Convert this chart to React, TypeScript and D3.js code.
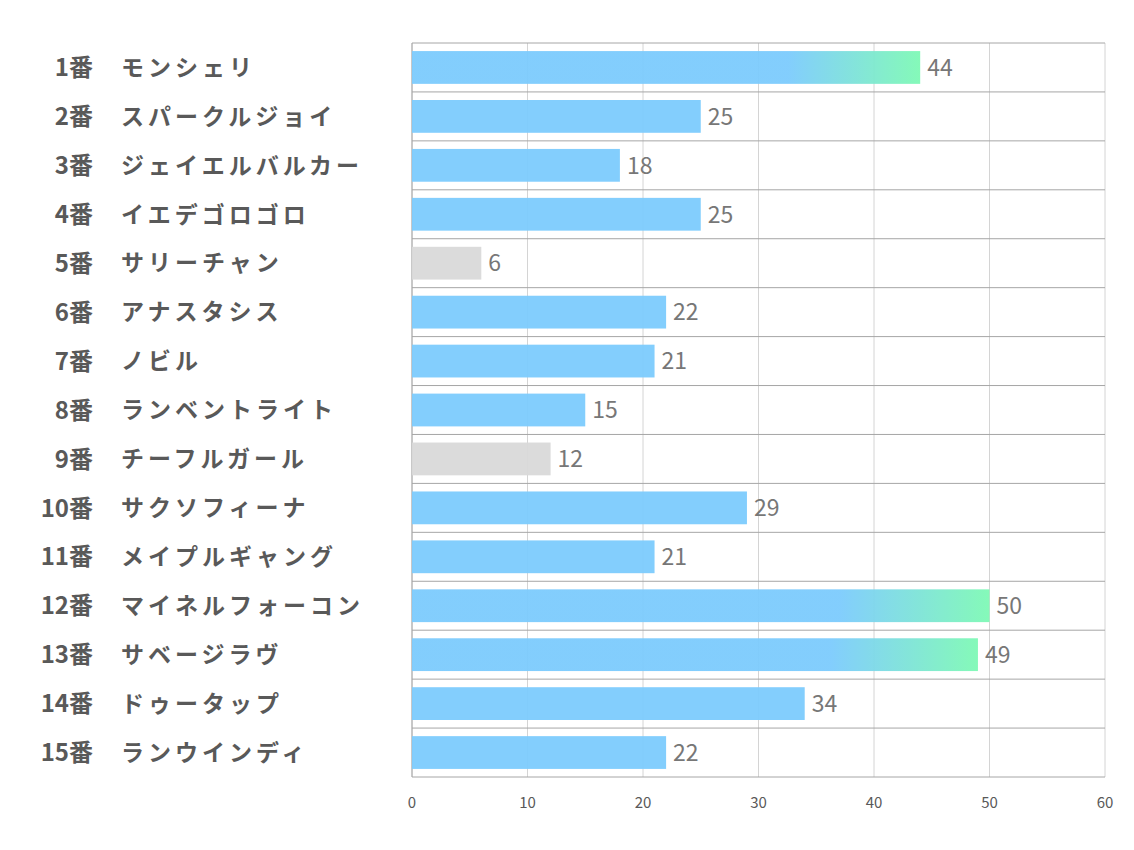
import React from "react";
import * as d3 from "d3";

const numbers = ["1番","2番","3番","4番","5番","6番","7番","8番","9番","10番","11番","12番","13番","14番","15番"];
const names = ["モンシェリ","スパークルジョイ","ジェイエルバルカー","イエデゴロゴロ","サリーチャン","アナスタシス","ノビル","ランベントライト","チーフルガール","サクソフィーナ","メイプルギャング","マイネルフォーコン","サベージラヴ","ドゥータップ","ランウインディ"];
const values = [44,25,18,25,6,22,21,15,12,29,21,50,49,34,22];
const kinds = ["top","normal","normal","normal","gray","normal","normal","normal","gray","normal","normal","top","top","normal","normal"];
const xTicks = [0,10,20,30,40,50,60];

const W = 1134, H = 850;
const left = 412, right = 1105, top = 43, bottom = 777;
const FONT = "'Noto Sans CJK JP', 'Noto Sans', sans-serif";

export default function App() {
  const x = d3.scaleLinear().domain([0, 60]).range([left, right]);
  const y = d3.scaleBand<string>().domain(numbers).range([top, bottom]).paddingInner(0.33).paddingOuter(0.165);
  const rows = d3.scaleBand<string>().domain(numbers).range([top, bottom]);
  const blue = "#7ccbfd";
  const green = "#7ef9b5";
  return (
    <svg width={W} height={H} style={{ position: "absolute", left: 0, top: 0 }}>
      <defs>
        <linearGradient id="topGrad" x1="0" x2="1" y1="0" y2="0">
          <stop offset="0" stopColor={blue} />
          <stop offset="0.74" stopColor={blue} />
          <stop offset="1" stopColor={green} />
        </linearGradient>
      </defs>
      <rect width={W} height={H} fill="#fff" />
      {xTicks.map(t => (
        <line key={"v" + t} x1={x(t)} x2={x(t)} y1={top} y2={bottom} stroke="#d4d4d4" strokeWidth={1} />
      ))}
      {numbers.map(n => (
        <line key={"h" + n} x1={left} x2={right} y1={rows(n)!} y2={rows(n)!} stroke="#a6a6a6" strokeWidth={1} />
      ))}
      <line x1={left} x2={right} y1={bottom} y2={bottom} stroke="#a6a6a6" strokeWidth={1} />
      <line x1={left} x2={left} y1={top} y2={bottom} stroke="#a6a6a6" strokeWidth={1} />
      {numbers.map((n, i) => {
        const fill = kinds[i] === "top" ? "url(#topGrad)" : kinds[i] === "gray" ? "#d9d9d9" : blue;
        return (
          <rect key={"b" + n} x={x(0)} y={y(n)!} width={x(values[i]) - x(0)} height={y.bandwidth()} fill={fill} fillOpacity={0.95} />
        );
      })}
      {numbers.map((n, i) => (
        <text key={"vl" + n} x={x(values[i]) + 7} y={rows(n)! + rows.bandwidth() / 2} dy="0.36em" fontFamily={FONT} fontSize={23} fill="#777777">
          {values[i]}
        </text>
      ))}
      {numbers.map((n, i) => (
        <g key={"l" + n}>
          <text x={93} y={rows(n)! + rows.bandwidth() / 2} dy="0.36em" textAnchor="end" fontFamily={FONT} fontWeight="bold" fontSize={24} fill="#595959">{n}</text>
          <text x={121} y={rows(n)! + rows.bandwidth() / 2} dy="0.36em" fontFamily={FONT} fontWeight="bold" fontSize={23} fill="#595959" letterSpacing={4}>{names[i]}</text>
        </g>
      ))}
      {xTicks.map(t => (
        <text key={"t" + t} x={x(t)} y={803} dy="0.36em" textAnchor="middle" fontFamily={FONT} fontSize={15} fill="#595959">{t}</text>
      ))}
    </svg>
  );
}
